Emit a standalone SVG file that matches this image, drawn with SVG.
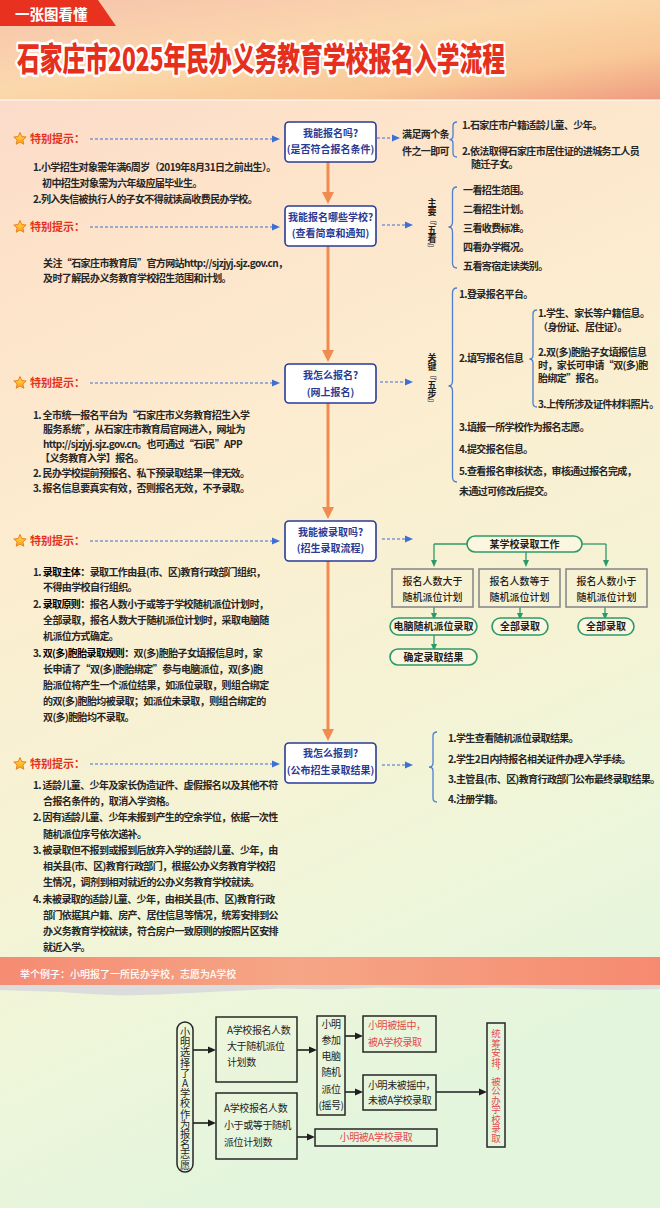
<svg xmlns="http://www.w3.org/2000/svg" xmlns:xlink="http://www.w3.org/1999/xlink" width="660" height="1208" viewBox="0 0 660 1208">
<defs>
<linearGradient id="hdr" x1="0" y1="0" x2="1" y2="1">
<stop offset="0" stop-color="#f6c3ad"/><stop offset="0.45" stop-color="#fbd8ac"/><stop offset="0.75" stop-color="#f9c897"/><stop offset="1" stop-color="#ef9c80"/>
</linearGradient>
<linearGradient id="body" x1="0" y1="0" x2="0.25" y2="1">
<stop offset="0" stop-color="#fad6ca"/><stop offset="0.2" stop-color="#fde2c9"/><stop offset="0.45" stop-color="#fcedd0"/><stop offset="0.7" stop-color="#f5f3d5"/><stop offset="0.85" stop-color="#eef6da"/><stop offset="1" stop-color="#e4f5dd"/>
</linearGradient>
<linearGradient id="band" x1="0" y1="0" x2="1" y2="0">
<stop offset="0" stop-color="#f58b72"/><stop offset="0.45" stop-color="#f5a686"/><stop offset="1" stop-color="#f68a70"/>
</linearGradient>
<linearGradient id="stargr" x1="0" y1="0" x2="0" y2="1">
<stop offset="0" stop-color="#ffe04a"/><stop offset="1" stop-color="#f8a21c"/>
</linearGradient>
<g id="star"><polygon points="0,-6.5 1.76,-2.43 6.18,-2.01 2.85,0.93 3.82,5.26 0,3 -3.82,5.26 -2.85,0.93 -6.18,-2.01 -1.76,-2.43" fill="url(#stargr)" stroke="#ef7f1a" stroke-width="1" stroke-linejoin="round"/></g>
<marker id="ao" markerUnits="userSpaceOnUse" viewBox="0 0 12 12" refX="6" refY="6" markerWidth="12" markerHeight="12" orient="auto"><path d="M0,0 L12,6 L0,12 z" fill="#f28b50"/></marker>
<marker id="ab" markerUnits="userSpaceOnUse" viewBox="0 0 8 8" refX="2" refY="4" markerWidth="8" markerHeight="8" orient="auto"><path d="M0,0.5 L8,4 L0,7.5 z" fill="#3d70d4"/></marker>
<marker id="ag" markerUnits="userSpaceOnUse" viewBox="0 0 7 7" refX="2" refY="3.5" markerWidth="7" markerHeight="7" orient="auto"><path d="M0,0.5 L7,3.5 L0,6.5 z" fill="#2c9a68"/></marker>
<marker id="ak" markerUnits="userSpaceOnUse" viewBox="0 0 8 8" refX="2" refY="4" markerWidth="8" markerHeight="8" orient="auto"><path d="M0,0.5 L8,4 L0,7.5 z" fill="#1e1e1e"/></marker>
<style>
text{font-family:"Noto Sans CJK SC","Noto Sans",sans-serif}
.tiph{font-size:11px;font-weight:700;fill:#e5311c}
.tx{font-size:10px;font-weight:700;fill:#262626;letter-spacing:-0.6px}
.b{font-weight:700;fill:#000}
.nd rect{fill:#ffffff;stroke:#2a3b98;stroke-width:1.6}
.nd text{font-size:10px;font-weight:700;fill:#2a3a93;text-anchor:middle}
.dash{stroke:#3d70d4;stroke-width:1.2;stroke-dasharray:3 2;fill:none;marker-end:url(#ab)}
.brace{stroke:#4c7fd2;stroke-width:1.3;fill:none}
.or{stroke:#f28b50;stroke-width:3;fill:none;marker-end:url(#ao)}
.gl{stroke:#2c9a68;stroke-width:1.3;fill:none}
.gla{stroke:#2c9a68;stroke-width:1.3;fill:none;marker-end:url(#ag)}
.gp{fill:#fbf6e0;stroke:#2c9a68;stroke-width:1.6}
.gb{fill:none;stroke:#8a8a8a;stroke-width:1.6}
.gt{font-size:10px;font-weight:500;fill:#1e1e1e;text-anchor:middle}
.gtb{font-size:10px;font-weight:700;fill:#1e1e1e;text-anchor:middle}
.bx{fill:none;stroke:#262626;stroke-width:1.5}
.bt{font-size:10px;font-weight:400;fill:#1e1e1e;letter-spacing:-0.4px}
.rt{font-size:10px;font-weight:400;fill:#e5484d;letter-spacing:-0.4px}
.ka{stroke:#1e1e1e;stroke-width:1.6;fill:none;marker-end:url(#ak)}
.vt{font-size:9px;font-weight:700;fill:#1e1e1e;writing-mode:vertical-rl}
.vu{writing-mode:vertical-rl;text-orientation:upright}
</style>
</defs>

<!-- backgrounds -->
<rect x="0" y="0" width="660" height="1208" fill="url(#body)"/>
<rect x="0" y="0" width="660" height="100" fill="url(#hdr)"/>
<rect x="0" y="99" width="660" height="2" fill="#fff" opacity="0.5"/>
<polygon points="0,0 98,0 116,26 0,26" fill="#e8321f"/>
<text x="15" y="20" font-size="14.5" font-weight="700" fill="#ffffff">一张图看懂</text>
<text transform="translate(17,71) scale(1,1.42)" x="0" y="0" font-size="23" font-weight="900" fill="#e5301d" stroke="#ffffff" stroke-width="4" stroke-linejoin="round" paint-order="stroke" textLength="488" lengthAdjust="spacingAndGlyphs">石家庄市2025年民办义务教育学校报名入学流程</text>

<!-- connectors -->
<g id="connectors">
<path class="or" d="M328,162 V198"/>
<path class="or" d="M328,246 V356"/>
<path class="or" d="M328,403 V513"/>
<path class="or" d="M328,561 V735"/>
<path class="dash" d="M90,139 H274"/>
<path class="dash" d="M90,227 H274"/>
<path class="dash" d="M90,383 H274"/>
<path class="dash" d="M90,541 H274"/>
<path class="dash" d="M90,764 H274"/>
<path class="dash" d="M377,138 H394"/>
<path class="dash" d="M382,225 H407"/>
<path class="dash" d="M380,382 H407"/>
<path class="dash" d="M382,539 H407"/>
<path class="dash" d="M382,765 H407"/>
<path class="brace" d="M457,122 Q453,122 453,126 V135.5 Q453,139.5 449.5,139.5 Q453,139.5 453,143.5 V153 Q453,157 457,157"/>
<path class="brace" d="M457,187 Q452.5,187 452.5,192 V222 Q452.5,227 448.5,227 Q452.5,227 452.5,232 V263 Q452.5,268 457,268"/>
<path class="brace" d="M457,288 Q452.5,288 452.5,293 V381 Q452.5,386 448.5,386 Q452.5,386 452.5,391 V477 Q452.5,482 457,482"/>
<path class="brace" d="M537,310 Q533,310 533,314 V355 Q533,359 529.5,359 Q533,359 533,363 V403 Q533,407 537,407"/>
<path class="brace" d="M437,732 Q433,732 433,736 V763 Q433,767 429,767 Q433,767 433,771 V798 Q433,802 437,802"/>
<path class="gl" d="M467,544 H434"/>
<path class="gla" d="M434,544 V562"/>
<path class="gl" d="M582,544 H606"/>
<path class="gla" d="M606,544 V562"/>
<path class="gla" d="M526,552 V562"/>
<path class="gla" d="M434,607 V615"/>
<path class="gla" d="M434,635 V646"/>
<path class="gla" d="M520,607 V615"/>
<path class="gla" d="M605,607 V615"/>
<path class="ka" d="M193,1050 H210"/>
<path class="ka" d="M193,1123 H210"/>
<path class="ka" d="M297,1050 H311"/>
<path class="ka" d="M345,1036 H357"/>
<path class="ka" d="M345,1092 H357"/>
<path class="ka" d="M436,1092 H481"/>
<path class="ka" d="M297,1137 H309"/>
</g>

<!-- tips -->
<g id="tip1">
<use href="#star" x="20" y="139"/>
<text class="tiph" x="30" y="143">特别提示：</text>
<text class="tx" x="33" y="170.5">1.小学招生对象需年满6周岁（2019年8月31日之前出生）。</text>
<text class="tx" x="42" y="186.5">初中招生对象需为六年级应届毕业生。</text>
<text class="tx" x="33" y="202.5">2.列入失信被执行人的子女不得就读高收费民办学校。</text>
</g>
<g id="tip2">
<use href="#star" x="20" y="227"/>
<text class="tiph" x="30" y="231">特别提示：</text>
<text class="tx" x="43" y="266.5">关注“石家庄市教育局”官方网站http://sjzjyj.sjz.gov.cn，</text>
<text class="tx" x="43" y="281.5">及时了解民办义务教育学校招生范围和计划。</text>
</g>
<g id="tip3">
<use href="#star" x="20" y="383"/>
<text class="tiph" x="30" y="387">特别提示：</text>
<text class="tx" x="33" y="418.5">1. 全市统一报名平台为“石家庄市义务教育招生入学</text>
<text class="tx" x="43" y="432.5">服务系统”，从石家庄市教育局官网进入，网址为</text>
<text class="tx" x="43" y="447.5">http://sjzjyj.sjz.gov.cn。也可通过“石i民”APP</text>
<text class="tx" x="40" y="461.5">【义务教育入学】报名。</text>
<text class="tx" x="33" y="476.5">2. 民办学校提前预报名、私下预录取结果一律无效。</text>
<text class="tx" x="33" y="491.5">3. 报名信息要真实有效，否则报名无效，不予录取。</text>
</g>
<g id="tip4">
<use href="#star" x="20" y="541"/>
<text class="tiph" x="30" y="545">特别提示：</text>
<text class="tx" x="33" y="575.5">1. <tspan class="b">录取主体：</tspan>录取工作由县(市、区)教育行政部门组织，</text>
<text class="tx" x="43" y="590.5">不得由学校自行组织。</text>
<text class="tx" x="33" y="607.5">2. <tspan class="b">录取原则：</tspan>报名人数小于或等于学校随机派位计划时，</text>
<text class="tx" x="43" y="623.5">全部录取，报名人数大于随机派位计划时，采取电脑随</text>
<text class="tx" x="43" y="639.5">机派位方式确定。</text>
<text class="tx" x="33" y="656.5">3. <tspan class="b">双(多)胞胎录取规则：</tspan>双(多)胞胎子女填报信息时，家</text>
<text class="tx" x="43" y="672.5">长申请了“双(多)胞胎绑定”参与电脑派位，双(多)胞</text>
<text class="tx" x="43" y="688.5">胎派位将产生一个派位结果，如派位录取，则组合绑定</text>
<text class="tx" x="43" y="704.5">的双(多)胞胎均被录取；如派位未录取，则组合绑定的</text>
<text class="tx" x="43" y="720.5">双(多)胞胎均不录取。</text>
</g>
<g id="tip5">
<use href="#star" x="20" y="764"/>
<text class="tiph" x="30" y="768">特别提示：</text>
<text class="tx" x="33" y="788.5">1. 适龄儿童、少年及家长伪造证件、虚假报名以及其他不符</text>
<text class="tx" x="43" y="804.5">合报名条件的，取消入学资格。</text>
<text class="tx" x="33" y="820.5">2. 因有适龄儿童、少年未报到产生的空余学位，依据一次性</text>
<text class="tx" x="43" y="837.5">随机派位序号依次递补。</text>
<text class="tx" x="33" y="853.5">3. 被录取但不报到或报到后放弃入学的适龄儿童、少年，由</text>
<text class="tx" x="43" y="869.5">相关县(市、区)教育行政部门，根据公办义务教育学校招</text>
<text class="tx" x="43" y="885.5">生情况，调剂到相对就近的公办义务教育学校就读。</text>
<text class="tx" x="33" y="902.5">4. 未被录取的适龄儿童、少年，由相关县(市、区)教育行政</text>
<text class="tx" x="43" y="918.5">部门依据其户籍、房产、居住信息等情况，统筹安排到公</text>
<text class="tx" x="43" y="934.5">办义务教育学校就读，符合房户一致原则的按照片区安排</text>
<text class="tx" x="43" y="950.5">就近入学。</text>
</g>

<!-- main nodes -->
<g id="node1" class="nd">
<rect x="285" y="122" width="91" height="40" rx="4"/>
<text x="330.5" y="136.5">我能报名吗?</text>
<text x="330.5" y="152.5">(是否符合报名条件)</text>
</g>
<g id="node2" class="nd">
<rect x="285" y="206" width="91" height="40" rx="4"/>
<text x="330.5" y="220.5">我能报名哪些学校?</text>
<text x="330.5" y="236.5">(查看简章和通知)</text>
</g>
<g id="node3" class="nd">
<rect x="285" y="364" width="91" height="39" rx="4"/>
<text x="330.5" y="378.5">我怎么报名?</text>
<text x="330.5" y="395.5">(网上报名)</text>
</g>
<g id="node4" class="nd">
<rect x="285" y="521" width="91" height="40" rx="4"/>
<text x="330.5" y="535.5">我能被录取吗?</text>
<text x="330.5" y="551.5">(招生录取流程)</text>
</g>
<g id="node5" class="nd">
<rect x="285" y="743" width="91" height="40" rx="4"/>
<text x="330.5" y="756.5">我怎么报到?</text>
<text x="330.5" y="774">(公布招生录取结果)</text>
</g>

<!-- right side details -->
<g id="cond">
<text class="tx" x="402" y="137.5" style="letter-spacing:-0.6px">满足两个条</text>
<text class="tx" x="402" y="155" style="letter-spacing:-0.6px">件之一即可</text>
<text class="tx" x="462" y="128.5">1.石家庄市户籍适龄儿童、少年。</text>
<text class="tx" x="462" y="155">2.依法取得石家庄市居住证的进城务工人员</text>
<text class="tx" x="471" y="168">随迁子女。</text>
</g>
<g id="wukan">
<text class="vt" x="432" y="198">主要『五看』</text>
<text class="tx" x="463" y="193.5">一看招生范围。</text>
<text class="tx" x="463" y="212.5">二看招生计划。</text>
<text class="tx" x="463" y="231.5">三看收费标准。</text>
<text class="tx" x="463" y="250.5">四看办学概况。</text>
<text class="tx" x="463" y="269.5">五看寄宿走读类别。</text>
</g>
<g id="wubu">
<text class="vt" x="432" y="353">关键『五步』</text>
<text class="tx" x="459" y="297.5">1.登录报名平台。</text>
<text class="tx" x="459" y="361.5">2.填写报名信息</text>
<text class="tx" x="538" y="316.5">1.学生、家长等户籍信息。</text>
<text class="tx" x="538" y="330.5">（身份证、居住证）。</text>
<text class="tx" x="538" y="355.5">2.双(多)胞胎子女填报信息</text>
<text class="tx" x="538" y="368.5">时，家长可申请“双(多)胞</text>
<text class="tx" x="538" y="381.5">胎绑定”报名。</text>
<text class="tx" x="538" y="407.5">3.上传所涉及证件材料照片。</text>
<text class="tx" x="459" y="430.5">3.填报一所学校作为报名志愿。</text>
<text class="tx" x="459" y="452.5">4.提交报名信息。</text>
<text class="tx" x="459" y="474.5">5.查看报名审核状态，审核通过报名完成，</text>
<text class="tx" x="459" y="494.5">未通过可修改后提交。</text>
</g>
<g id="baodao">
<text class="tx" x="448" y="741.5">1.学生查看随机派位录取结果。</text>
<text class="tx" x="448" y="762.5">2.学生2日内持报名相关证件办理入学手续。</text>
<text class="tx" x="448" y="782.5">3.主管县(市、区)教育行政部门公布最终录取结果。</text>
<text class="tx" x="448" y="802.5">4.注册学籍。</text>
</g>

<!-- admission sub-flow -->
<g id="g-school">
<rect class="gp" x="467" y="536" width="115" height="16" rx="8"/>
<text class="gtb" x="524.5" y="547.5">某学校录取工作</text>
</g>
<g id="g-more">
<rect class="gb" x="392" y="569" width="81" height="38"/>
<text class="gt" x="432.5" y="584.5">报名人数大于</text>
<text class="gt" x="432.5" y="600.5">随机派位计划</text>
</g>
<g id="g-equal">
<rect class="gb" x="479" y="569" width="81" height="38"/>
<text class="gt" x="519.5" y="584.5">报名人数等于</text>
<text class="gt" x="519.5" y="600.5">随机派位计划</text>
</g>
<g id="g-less">
<rect class="gb" x="566" y="569" width="81" height="38"/>
<text class="gt" x="606.5" y="584.5">报名人数小于</text>
<text class="gt" x="606.5" y="600.5">随机派位计划</text>
</g>
<g id="g-lottery">
<rect class="gp" x="390" y="618" width="87" height="17" rx="8.5"/>
<text class="gtb" x="433.5" y="630">电脑随机派位录取</text>
</g>
<g id="g-result">
<rect class="gp" x="390" y="649" width="87" height="16" rx="8"/>
<text class="gtb" x="433.5" y="660.5">确定录取结果</text>
</g>
<g id="g-all1">
<rect class="gp" x="492" y="618" width="56" height="17" rx="8.5"/>
<text class="gtb" x="520" y="630">全部录取</text>
</g>
<g id="g-all2">
<rect class="gp" x="578" y="618" width="56" height="17" rx="8.5"/>
<text class="gtb" x="606" y="630">全部录取</text>
</g>

<!-- example band -->
<g id="band-g">
<rect x="0" y="957" width="660" height="28" fill="url(#band)"/>
<path d="M0,985 H660 V989 L620,990 L560,989 L500,987.5 L440,988.5 L380,987.5 L330,989.5 L280,988.5 L240,990.5 L200,992.5 L160,994.5 L120,995.5 L90,994 L60,992 L30,991 L0,990 Z" fill="#dcdcdc"/>
<text x="20" y="977.5" font-size="10" font-weight="500" fill="#ffffff">举个例子：小明报了一所民办学校，志愿为A学校</text>
</g>

<!-- example flow -->
<g id="e-choice">
<rect class="bx" x="177" y="1022" width="16" height="150" rx="8"/>
<text class="vu" x="185" y="1027" font-size="10.2" font-weight="400" fill="#1e1e1e">小明选择了A学校作为报名志愿</text>
</g>
<g id="e-more">
<rect class="bx" x="216" y="1017" width="81" height="65"/>
<text class="bt" x="227" y="1033.5">A学校报名人数</text>
<text class="bt" x="227" y="1049.5">大于随机派位</text>
<text class="bt" x="227" y="1066">计划数</text>
</g>
<g id="e-less">
<rect class="bx" x="216" y="1093" width="81" height="66"/>
<text class="bt" x="224" y="1111.5">A学校报名人数</text>
<text class="bt" x="224" y="1128.5">小于或等于随机</text>
<text class="bt" x="224" y="1145.5">派位计划数</text>
</g>
<g id="e-lottery">
<rect class="bx" x="317" y="1016" width="28" height="99"/>
<text class="bt" x="331" y="1027.5" text-anchor="middle">小明</text>
<text class="bt" x="331" y="1043.5" text-anchor="middle">参加</text>
<text class="bt" x="331" y="1059.5" text-anchor="middle">电脑</text>
<text class="bt" x="331" y="1075.5" text-anchor="middle">随机</text>
<text class="bt" x="331" y="1092.5" text-anchor="middle">派位</text>
<text class="bt" x="331" y="1108.5" text-anchor="middle">(摇号)</text>
</g>
<g id="e-won">
<rect class="bx" x="363" y="1016" width="73" height="36"/>
<text class="rt" x="368" y="1028.5">小明被摇中，</text>
<text class="rt" x="368" y="1045.5">被A学校录取</text>
</g>
<g id="e-lost">
<rect class="bx" x="363" y="1075" width="73" height="35"/>
<text class="bt" x="368" y="1088.5">小明未被摇中，</text>
<text class="bt" x="368" y="1103.5">未被A学校录取</text>
</g>
<g id="e-admit">
<rect class="bx" x="315" y="1129" width="122" height="17"/>
<text class="rt" x="376" y="1141" text-anchor="middle">小明被A学校录取</text>
</g>
<g id="e-public">
<rect class="bx" x="487" y="1023" width="18" height="124"/>
<text x="496" y="1029" font-size="9.5" font-weight="400" fill="#e5484d" style="writing-mode:vertical-rl">统筹安排，被公办学校录取</text>
</g>
</svg>
